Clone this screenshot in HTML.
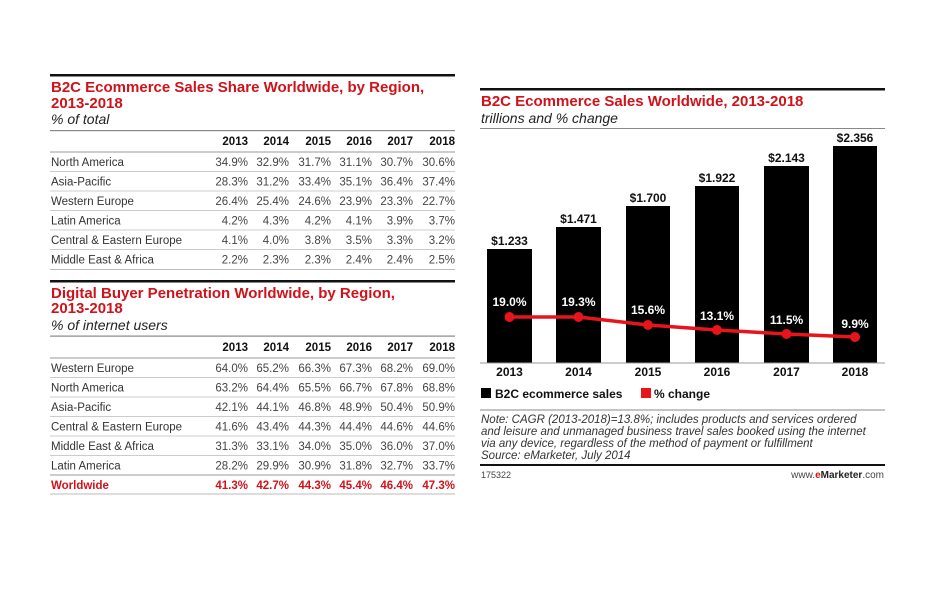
<!DOCTYPE html>
<html><head><meta charset="utf-8"><style>
html,body{margin:0;padding:0;background:#fff;}
svg{display:block;}
text{font-family:"Liberation Sans",sans-serif;}
.t{fill:#d0121b;font-weight:bold;font-size:15px;}
.s{font-style:italic;font-size:14px;fill:#222;}
.h{font-weight:bold;font-size:11.5px;fill:#111;text-anchor:end;}
.r{font-size:11.5px;fill:#333;}
.v{font-size:11.5px;fill:#444;text-anchor:end;}
.w{font-size:11.5px;fill:#d0121b;font-weight:bold;}
.bl{font-weight:bold;font-size:12px;fill:#111;text-anchor:middle;}
.pl{font-weight:bold;font-size:12px;fill:#fff;text-anchor:middle;}
.n{font-style:italic;font-size:11.5px;fill:#333;}
</style></head><body>
<svg width="948" height="598" viewBox="0 0 948 598" xmlns="http://www.w3.org/2000/svg">
<!-- Left table 1 -->
<rect x="50" y="74" width="405" height="2.5" fill="#111"/>
<text class="t" x="51" y="92">B2C Ecommerce Sales Share Worldwide, by Region,</text>
<text class="t" x="51" y="108">2013-2018</text>
<text class="s" x="51" y="124">% of total</text>
<rect x="50" y="130" width="405" height="1.2" fill="#888"/>
<g class="h"><text x="248" y="145">2013</text><text x="289" y="145">2014</text><text x="331" y="145">2015</text><text x="372" y="145">2016</text><text x="413" y="145">2017</text><text x="455" y="145">2018</text></g>
<rect x="50" y="151.5" width="405" height="1" fill="#999"/>
<g id="t1">
<text class="r" x="51" y="166">North America</text>
<g class="v"><text x="248" y="166">34.9%</text><text x="289" y="166">32.9%</text><text x="331" y="166">31.7%</text><text x="372" y="166">31.1%</text><text x="413" y="166">30.7%</text><text x="455" y="166">30.6%</text></g>
<rect x="50" y="171" width="405" height="1" fill="#ccc"/>
<text class="r" x="51" y="185.5">Asia-Pacific</text>
<g class="v"><text x="248" y="185.5">28.3%</text><text x="289" y="185.5">31.2%</text><text x="331" y="185.5">33.4%</text><text x="372" y="185.5">35.1%</text><text x="413" y="185.5">36.4%</text><text x="455" y="185.5">37.4%</text></g>
<rect x="50" y="190.5" width="405" height="1" fill="#ccc"/>
<text class="r" x="51" y="205">Western Europe</text>
<g class="v"><text x="248" y="205">26.4%</text><text x="289" y="205">25.4%</text><text x="331" y="205">24.6%</text><text x="372" y="205">23.9%</text><text x="413" y="205">23.3%</text><text x="455" y="205">22.7%</text></g>
<rect x="50" y="210" width="405" height="1" fill="#ccc"/>
<text class="r" x="51" y="224.5">Latin America</text>
<g class="v"><text x="248" y="224.5">4.2%</text><text x="289" y="224.5">4.3%</text><text x="331" y="224.5">4.2%</text><text x="372" y="224.5">4.1%</text><text x="413" y="224.5">3.9%</text><text x="455" y="224.5">3.7%</text></g>
<rect x="50" y="229.5" width="405" height="1" fill="#ccc"/>
<text class="r" x="51" y="244">Central &amp; Eastern Europe</text>
<g class="v"><text x="248" y="244">4.1%</text><text x="289" y="244">4.0%</text><text x="331" y="244">3.8%</text><text x="372" y="244">3.5%</text><text x="413" y="244">3.3%</text><text x="455" y="244">3.2%</text></g>
<rect x="50" y="249" width="405" height="1" fill="#ccc"/>
<text class="r" x="51" y="263.5">Middle East &amp; Africa</text>
<g class="v"><text x="248" y="263.5">2.2%</text><text x="289" y="263.5">2.3%</text><text x="331" y="263.5">2.3%</text><text x="372" y="263.5">2.4%</text><text x="413" y="263.5">2.4%</text><text x="455" y="263.5">2.5%</text></g>
<rect x="50" y="269" width="405" height="1" fill="#bbb"/>
</g>
<!-- Left table 2 -->
<rect x="50" y="280" width="405" height="2.5" fill="#111"/>
<text class="t" x="51" y="298">Digital Buyer Penetration Worldwide, by Region,</text>
<text class="t" x="51" y="313">2013-2018</text>
<text class="s" x="51" y="330">% of internet users</text>
<rect x="50" y="335.5" width="405" height="1.2" fill="#888"/>
<g class="h"><text x="248" y="351">2013</text><text x="289" y="351">2014</text><text x="331" y="351">2015</text><text x="372" y="351">2016</text><text x="413" y="351">2017</text><text x="455" y="351">2018</text></g>
<rect x="50" y="357.5" width="405" height="1" fill="#999"/>
<text class="r" x="51" y="372">Western Europe</text>
<g class="v"><text x="248" y="372">64.0%</text><text x="289" y="372">65.2%</text><text x="331" y="372">66.3%</text><text x="372" y="372">67.3%</text><text x="413" y="372">68.2%</text><text x="455" y="372">69.0%</text></g>
<rect x="50" y="377" width="405" height="1" fill="#ccc"/>
<text class="r" x="51" y="391.5">North America</text>
<g class="v"><text x="248" y="391.5">63.2%</text><text x="289" y="391.5">64.4%</text><text x="331" y="391.5">65.5%</text><text x="372" y="391.5">66.7%</text><text x="413" y="391.5">67.8%</text><text x="455" y="391.5">68.8%</text></g>
<rect x="50" y="396.5" width="405" height="1" fill="#ccc"/>
<text class="r" x="51" y="411">Asia-Pacific</text>
<g class="v"><text x="248" y="411">42.1%</text><text x="289" y="411">44.1%</text><text x="331" y="411">46.8%</text><text x="372" y="411">48.9%</text><text x="413" y="411">50.4%</text><text x="455" y="411">50.9%</text></g>
<rect x="50" y="416" width="405" height="1" fill="#ccc"/>
<text class="r" x="51" y="430.5">Central &amp; Eastern Europe</text>
<g class="v"><text x="248" y="430.5">41.6%</text><text x="289" y="430.5">43.4%</text><text x="331" y="430.5">44.3%</text><text x="372" y="430.5">44.4%</text><text x="413" y="430.5">44.6%</text><text x="455" y="430.5">44.6%</text></g>
<rect x="50" y="435.5" width="405" height="1" fill="#ccc"/>
<text class="r" x="51" y="450">Middle East &amp; Africa</text>
<g class="v"><text x="248" y="450">31.3%</text><text x="289" y="450">33.1%</text><text x="331" y="450">34.0%</text><text x="372" y="450">35.0%</text><text x="413" y="450">36.0%</text><text x="455" y="450">37.0%</text></g>
<rect x="50" y="455" width="405" height="1" fill="#ccc"/>
<text class="r" x="51" y="469.5">Latin America</text>
<g class="v"><text x="248" y="469.5">28.2%</text><text x="289" y="469.5">29.9%</text><text x="331" y="469.5">30.9%</text><text x="372" y="469.5">31.8%</text><text x="413" y="469.5">32.7%</text><text x="455" y="469.5">33.7%</text></g>
<rect x="50" y="474.5" width="405" height="1" fill="#999"/>
<text class="w" x="51" y="489">Worldwide</text>
<g class="w" style="text-anchor:end"><text x="248" y="489">41.3%</text><text x="289" y="489">42.7%</text><text x="331" y="489">44.3%</text><text x="372" y="489">45.4%</text><text x="413" y="489">46.4%</text><text x="455" y="489">47.3%</text></g>
<rect x="50" y="493.5" width="405" height="1" fill="#bbb"/>

<!-- Right chart -->
<rect x="480" y="88" width="405" height="2.5" fill="#111"/>
<text class="t" x="481" y="106">B2C Ecommerce Sales Worldwide, 2013-2018</text>
<text class="s" x="481" y="123">trillions and % change</text>
<rect x="480" y="128" width="405" height="1" fill="#888"/>
<g fill="#000">
<rect x="487" y="249" width="45" height="114"/>
<rect x="556" y="227" width="45" height="136"/>
<rect x="626" y="206" width="44" height="157"/>
<rect x="695" y="186" width="44" height="177"/>
<rect x="764" y="166" width="45" height="197"/>
<rect x="833" y="146" width="44" height="217"/>
</g>
<rect x="480" y="362.5" width="405" height="1" fill="#999"/>
<g class="bl">
<text x="509.5" y="245">$1.233</text><text x="578.5" y="223">$1.471</text><text x="648" y="202">$1.700</text><text x="717" y="182">$1.922</text><text x="786.5" y="162">$2.143</text><text x="855" y="142">$2.356</text>
<text x="509.5" y="376">2013</text><text x="578.5" y="376">2014</text><text x="648" y="376">2015</text><text x="717" y="376">2016</text><text x="786.5" y="376">2017</text><text x="855" y="376">2018</text>
</g>
<polyline points="509.5,317 578.5,317 648,325 717,330 786.5,334 855,337" fill="none" stroke="#e8141b" stroke-width="3.5"/>
<g fill="#e8141b">
<circle cx="509.5" cy="317" r="5"/><circle cx="578.5" cy="317" r="5"/><circle cx="648" cy="325" r="5"/><circle cx="717" cy="330" r="5"/><circle cx="786.5" cy="334" r="5"/><circle cx="855" cy="337" r="5"/>
</g>
<g class="pl">
<text x="509.5" y="306">19.0%</text><text x="578.5" y="306">19.3%</text><text x="648" y="314">15.6%</text><text x="717" y="320">13.1%</text><text x="786.5" y="324">11.5%</text><text x="855" y="328">9.9%</text>
</g>
<rect x="481" y="388" width="10" height="10" fill="#000"/>
<text x="495" y="398" style="font-weight:bold;font-size:12px;fill:#111">B2C ecommerce sales</text>
<rect x="641" y="388" width="10" height="10" fill="#e8141b"/>
<text x="654" y="398" style="font-weight:bold;font-size:12px;fill:#111">% change</text>
<rect x="480" y="409.5" width="405" height="1" fill="#888"/>
<text class="n" x="481" y="423">Note: CAGR (2013-2018)=13.8%; includes products and services ordered</text>
<text class="n" x="481" y="435">and leisure and unmanaged business travel sales booked using the internet</text>
<text class="n" x="481" y="447">via any device, regardless of the method of payment or fulfillment</text>
<text class="n" x="481" y="459">Source: eMarketer, July 2014</text>
<rect x="480" y="464" width="405" height="2" fill="#111"/>
<text x="481" y="478" style="font-size:9px;fill:#444">175322</text>
<text x="884" y="478" style="font-size:10px;fill:#444;text-anchor:end">www.<tspan fill="#d0121b" font-weight="bold">e</tspan><tspan font-weight="bold" fill="#222">Marketer</tspan>.com</text>
</svg>
</body></html>
